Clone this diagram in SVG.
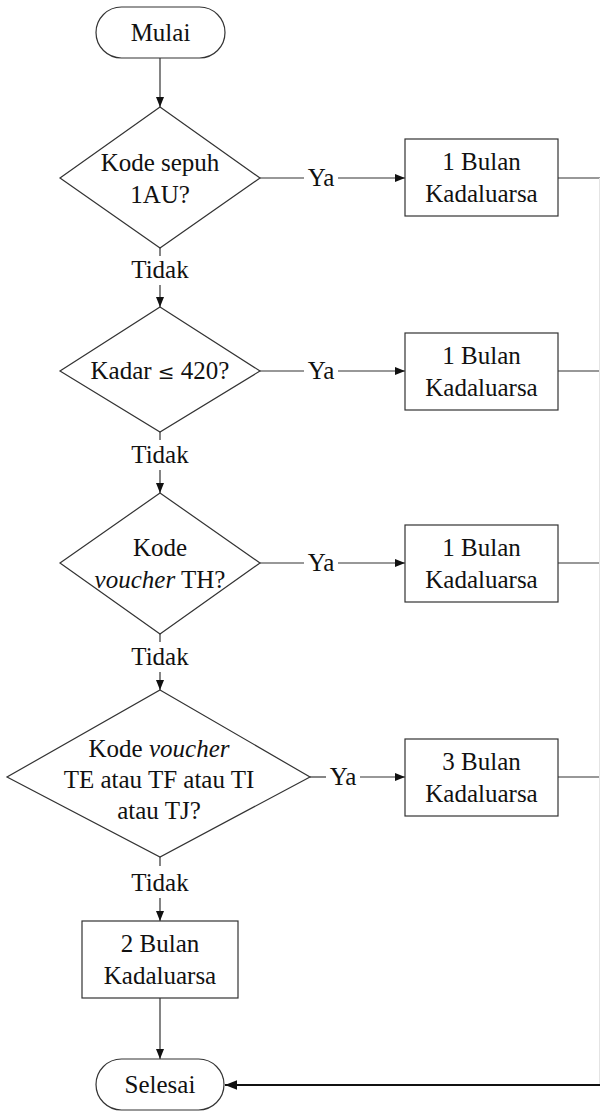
<svg xmlns="http://www.w3.org/2000/svg" width="600" height="1111" viewBox="0 0 600 1111">
<defs>
<marker id="a" viewBox="0 0 10 10" refX="10" refY="5" markerWidth="10" markerHeight="10" markerUnits="userSpaceOnUse" orient="auto">
<path d="M0,1 L10,5 L0,9 Z" fill="#111"/>
</marker>
<marker id="a2" viewBox="0 0 10 10" refX="10" refY="5" markerWidth="12" markerHeight="12" markerUnits="userSpaceOnUse" orient="auto">
<path d="M0,1 L10,5 L0,9 Z" fill="#111"/>
</marker>
</defs>
<rect width="600" height="1111" fill="#fff"/>
<g id="connectors" fill="none" stroke="#333" stroke-width="1.2">
<line x1="160" y1="58" x2="160" y2="107" marker-end="url(#a)"/>
<line x1="260" y1="178" x2="304" y2="178"/>
<line x1="338" y1="178" x2="405" y2="178" marker-end="url(#a)"/>
<line x1="558" y1="178" x2="600" y2="178"/>
<line x1="160" y1="248" x2="160" y2="256"/>
<line x1="160" y1="285" x2="160" y2="307" marker-end="url(#a)"/>
<line x1="260" y1="371" x2="304" y2="371"/>
<line x1="338" y1="371" x2="405" y2="371" marker-end="url(#a)"/>
<line x1="558" y1="371" x2="600" y2="371"/>
<line x1="160" y1="432" x2="160" y2="440"/>
<line x1="160" y1="470" x2="160" y2="493" marker-end="url(#a)"/>
<line x1="260" y1="563" x2="304" y2="563"/>
<line x1="338" y1="563" x2="405" y2="563" marker-end="url(#a)"/>
<line x1="558" y1="563" x2="600" y2="563"/>
<line x1="160" y1="634" x2="160" y2="642"/>
<line x1="160" y1="672" x2="160" y2="690" marker-end="url(#a)"/>
<line x1="310" y1="777" x2="326" y2="777"/>
<line x1="360" y1="777" x2="405" y2="777" marker-end="url(#a)"/>
<line x1="558" y1="777" x2="600" y2="777"/>
<line x1="160" y1="857" x2="160" y2="866"/>
<line x1="160" y1="898" x2="160" y2="921" marker-end="url(#a)"/>
<line x1="160" y1="998" x2="160" y2="1059" marker-end="url(#a)"/>
<line x1="599.5" y1="178" x2="599.5" y2="1085" stroke="#e4e4e4" stroke-width="1"/>
<line x1="600" y1="1085" x2="225" y2="1085" stroke="#111" stroke-width="2.2" marker-end="url(#a2)"/>
</g>
<g id="labels" font-family="Liberation Serif" font-size="25" fill="#111" stroke="none" text-anchor="middle">
<text x="321" y="186">Ya</text>
<text x="321" y="379">Ya</text>
<text x="321" y="571">Ya</text>
<text x="343" y="785">Ya</text>
<text x="160" y="278">Tidak</text>
<text x="160" y="463">Tidak</text>
<text x="160" y="665">Tidak</text>
<text x="160" y="891">Tidak</text>
</g>
<g fill="#fff" stroke="#333" stroke-width="1.2">
<g id="mulai">
<rect x="96" y="7" width="129" height="51" rx="25.5"/>
<text font-family="Liberation Serif" font-size="25" fill="#111" stroke="none" text-anchor="middle" x="160.5" y="41">Mulai</text>
</g>
<g id="d1">
<polygon points="160,107 260,178 160,248 60,178"/>
<text font-family="Liberation Serif" font-size="25" fill="#111" stroke="none" text-anchor="middle" x="160" y="171">Kode sepuh</text>
<text font-family="Liberation Serif" font-size="25" fill="#111" stroke="none" text-anchor="middle" x="160" y="203">1AU?</text>
</g>
<g id="b1">
<rect x="405" y="139" width="153" height="77"/>
<text font-family="Liberation Serif" font-size="25" fill="#111" stroke="none" text-anchor="middle" x="481.5" y="170">1 Bulan</text>
<text font-family="Liberation Serif" font-size="25" fill="#111" stroke="none" text-anchor="middle" x="481.5" y="202">Kadaluarsa</text>
</g>
<g id="d2">
<polygon points="160,307 260,371 160,432 60,371"/>
<text font-family="Liberation Serif" font-size="25" fill="#111" stroke="none" text-anchor="middle" x="160" y="379">Kadar <tspan font-family="DejaVu Serif" font-size="20">≤</tspan> 420?</text>
</g>
<g id="b2">
<rect x="405" y="333" width="153" height="77"/>
<text font-family="Liberation Serif" font-size="25" fill="#111" stroke="none" text-anchor="middle" x="481.5" y="364">1 Bulan</text>
<text font-family="Liberation Serif" font-size="25" fill="#111" stroke="none" text-anchor="middle" x="481.5" y="396">Kadaluarsa</text>
</g>
<g id="d3">
<polygon points="160,493 260,563 160,634 60,563"/>
<text font-family="Liberation Serif" font-size="25" fill="#111" stroke="none" text-anchor="middle" x="160" y="556">Kode</text>
<text font-family="Liberation Serif" font-size="25" fill="#111" stroke="none" text-anchor="middle" x="160" y="588"><tspan font-style="italic">voucher</tspan> TH?</text>
</g>
<g id="b3">
<rect x="405" y="525" width="153" height="77"/>
<text font-family="Liberation Serif" font-size="25" fill="#111" stroke="none" text-anchor="middle" x="481.5" y="556">1 Bulan</text>
<text font-family="Liberation Serif" font-size="25" fill="#111" stroke="none" text-anchor="middle" x="481.5" y="588">Kadaluarsa</text>
</g>
<g id="d4">
<polygon points="160,690 310,777 160,857 7,777"/>
<text font-family="Liberation Serif" font-size="25" fill="#111" stroke="none" text-anchor="middle" x="159" y="757">Kode <tspan font-style="italic">voucher</tspan></text>
<text font-family="Liberation Serif" font-size="25" fill="#111" stroke="none" text-anchor="middle" x="159" y="788">TE atau TF atau TI</text>
<text font-family="Liberation Serif" font-size="25" fill="#111" stroke="none" text-anchor="middle" x="159" y="819">atau TJ?</text>
</g>
<g id="b4">
<rect x="405" y="739" width="153" height="77"/>
<text font-family="Liberation Serif" font-size="25" fill="#111" stroke="none" text-anchor="middle" x="481.5" y="770">3 Bulan</text>
<text font-family="Liberation Serif" font-size="25" fill="#111" stroke="none" text-anchor="middle" x="481.5" y="802">Kadaluarsa</text>
</g>
<g id="b5">
<rect x="82" y="921" width="156" height="77"/>
<text font-family="Liberation Serif" font-size="25" fill="#111" stroke="none" text-anchor="middle" x="160" y="952">2 Bulan</text>
<text font-family="Liberation Serif" font-size="25" fill="#111" stroke="none" text-anchor="middle" x="160" y="984">Kadaluarsa</text>
</g>
<g id="selesai">
<rect x="96" y="1059" width="128" height="51" rx="25.5"/>
<text font-family="Liberation Serif" font-size="25" fill="#111" stroke="none" text-anchor="middle" x="160" y="1093">Selesai</text>
</g>
</g>
</svg>
